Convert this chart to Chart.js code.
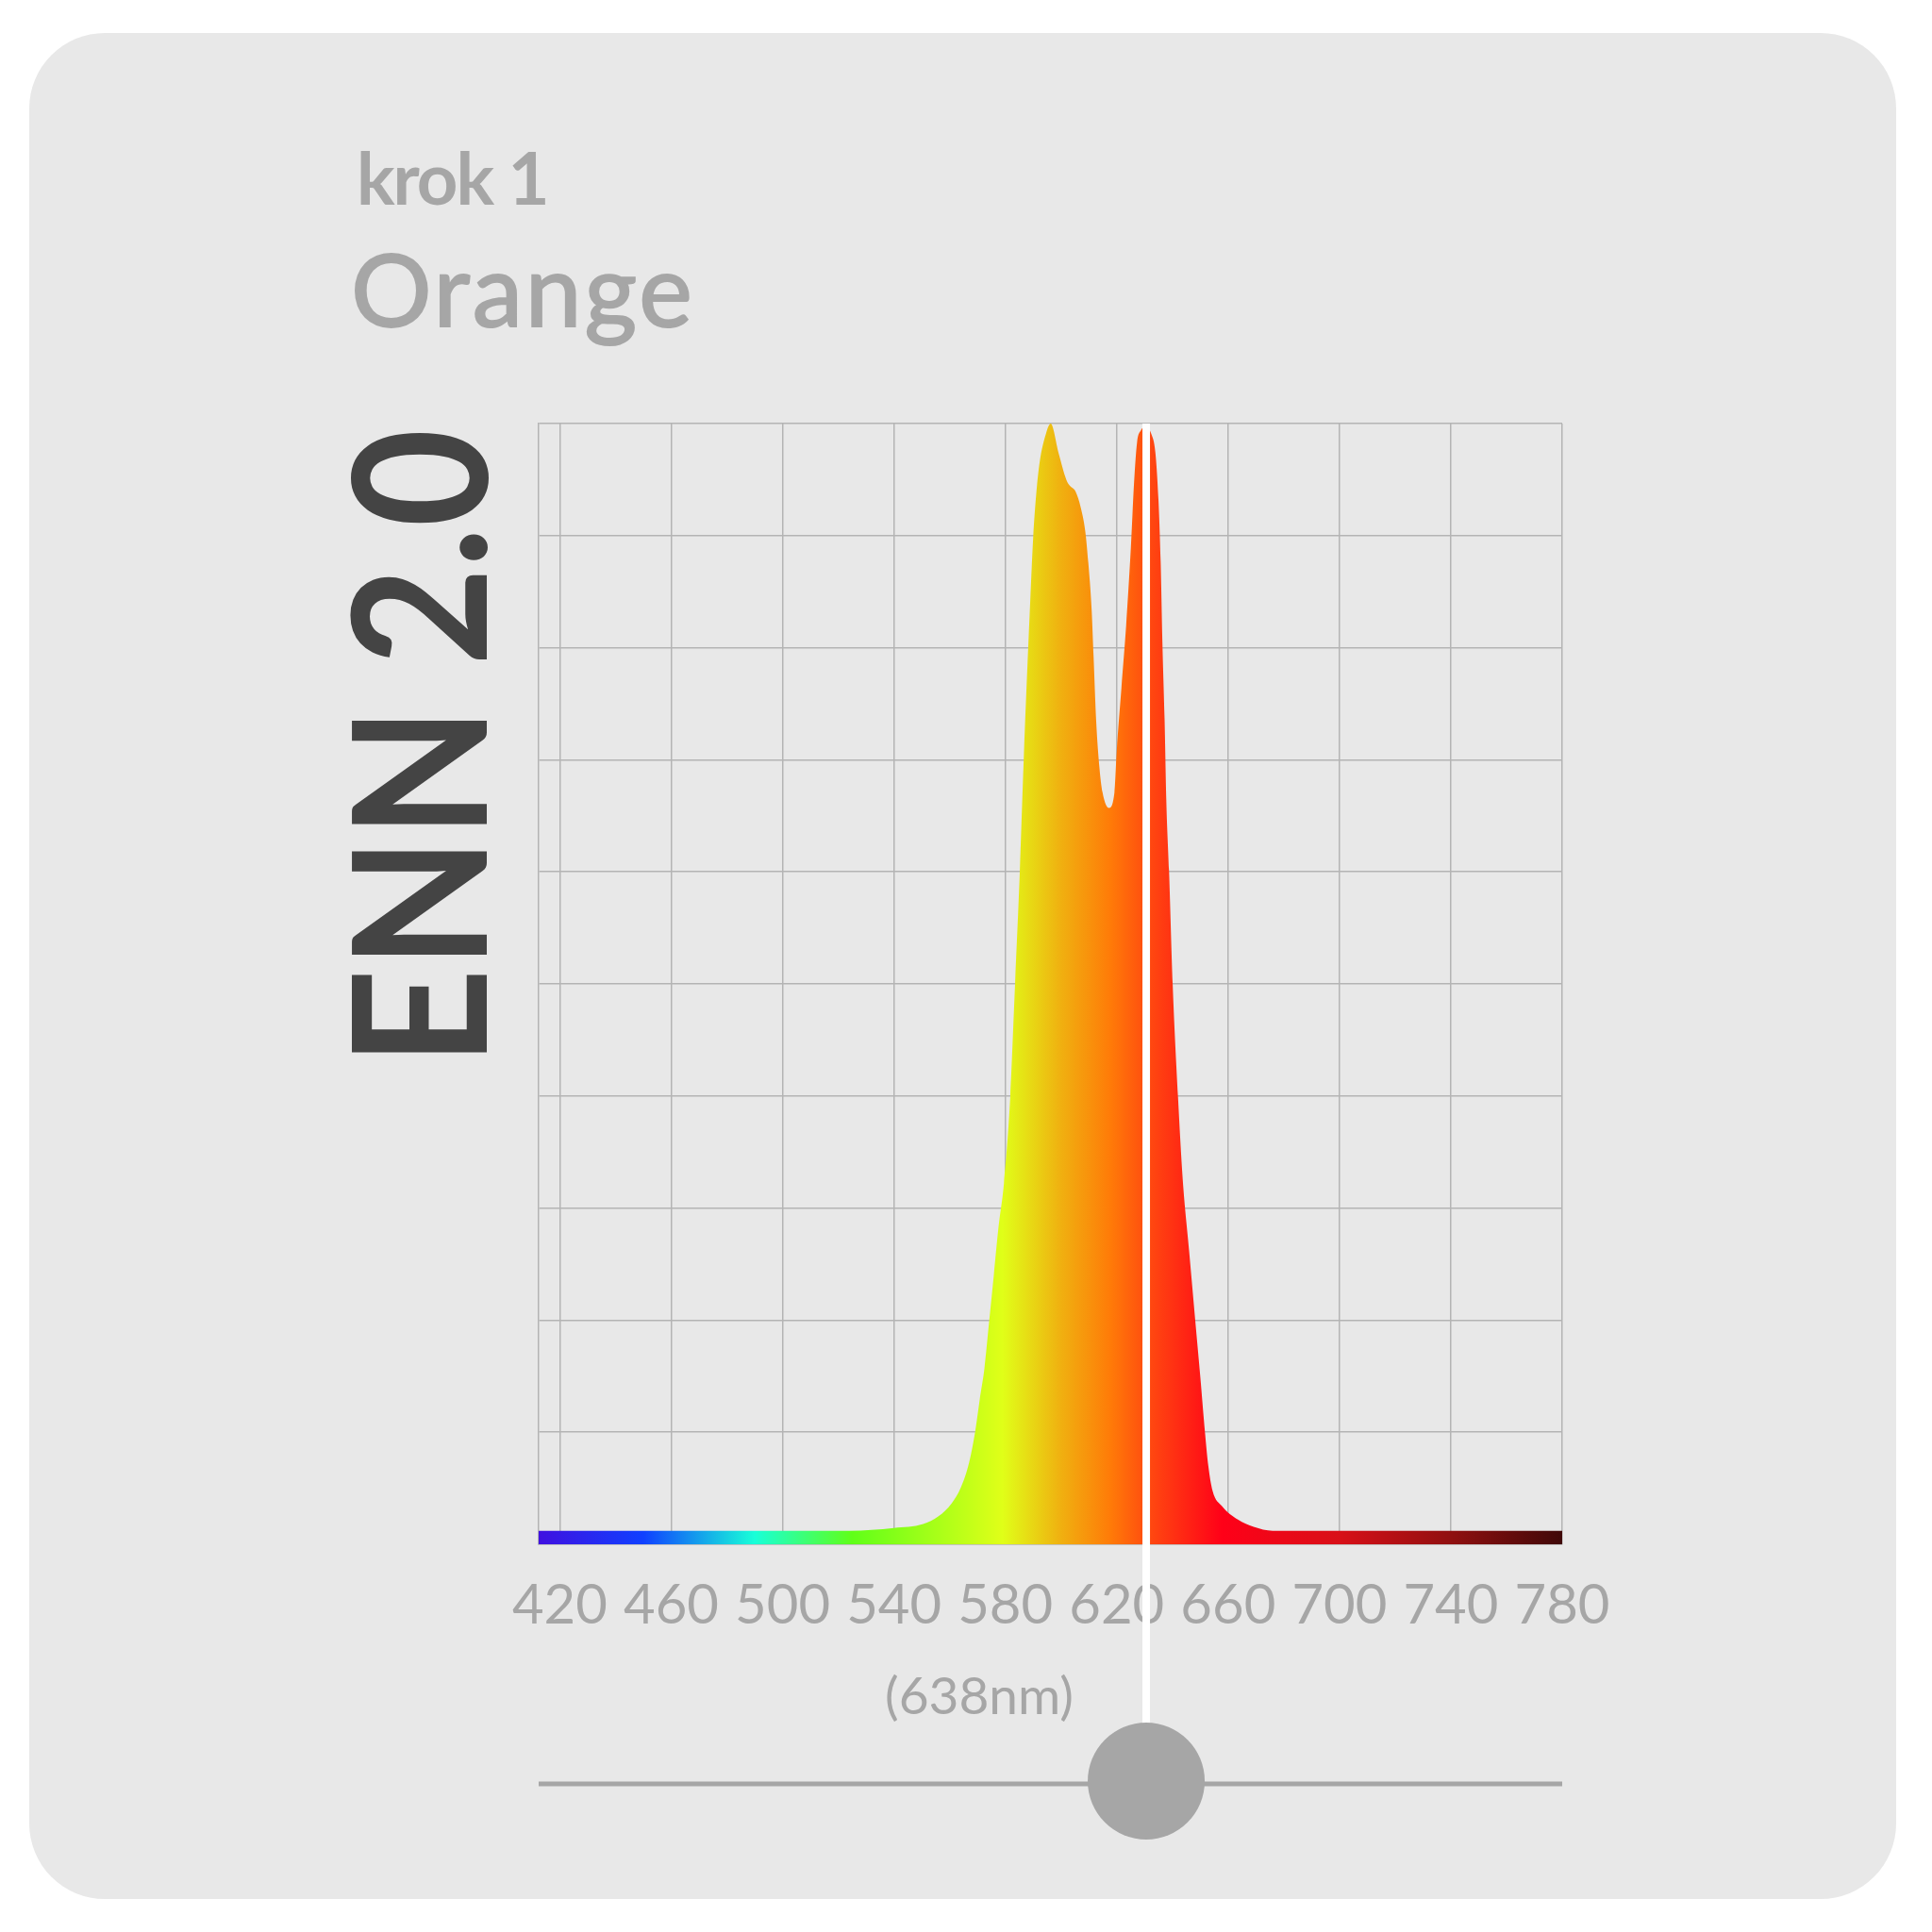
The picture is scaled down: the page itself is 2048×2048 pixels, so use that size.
<!DOCTYPE html>
<html>
<head>
<meta charset="utf-8">
<title>ENN 2.0 - krok 1 Orange</title>
<script src="https://cdn.jsdelivr.net/npm/chart.js@4.4.1/dist/chart.umd.min.js"></script>
<style>
  html, body { margin: 0; padding: 0; background: #ffffff; }
  #page { position: relative; width: 2048px; height: 2048px; overflow: hidden; }
  #card { position: absolute; left: 31px; top: 35px; width: 1979px; height: 1978px; border-radius: 80px; background: #e8e8e8; }
  .txt { position: absolute; white-space: nowrap; font-family: Lato, sans-serif; line-height: 1.2; }
  #step { left: 378px; top: 142px; font-size: 76px; font-weight: 700; letter-spacing: -2px; color: #a6a6a6; }
  #name { left: 372px; top: 241px; font-size: 107px; font-weight: 400; letter-spacing: 3px; color: #a6a6a6; -webkit-text-stroke: 2px #a6a6a6; }
  #brand { left: 322px; top: 1130px; font-size: 197px; font-weight: 700; color: #444444; transform-origin: 0 0; transform: rotate(-90deg) scaleX(0.913); }
  #nm { left: 888px; top: 1763px; width: 300px; text-align: center; font-size: 55px; color: #a6a6a6; }
  #chart { position: absolute; left: 0; top: 0; }
</style>
</head>
<body>
<div id="page">
  <div id="card"></div>
  <div class="txt" id="step">krok 1</div>
  <div class="txt" id="name">Orange</div>
  <div class="txt" id="brand">ENN 2.0</div>
  <div class="txt" id="nm">(638nm)</div>
  <canvas id="chart" width="2048" height="2048"></canvas>
</div>
<script>
// ---------- data ----------
const wavelengths = [
  412.4, 450, 500, 524, 540, 550.5, 556, 560.7, 564, 567, 569.2, 570.8, 572.5, 574.2, 575.9, 577.6,
  579.5, 581.8, 583.5, 585.2, 586.6, 588.9, 590, 591.2, 592.3, 594.6, 596.3, 599.1, 601.9,
  603, 605.3, 607, 608.7, 609.8, 611, 611.7, 612.6, 613.8, 614.9, 617.2, 619.2, 620, 621.7, 623.4,
  625.1, 626.2, 627.3, 628.7, 630.5, 632.4, 633.9, 635, 635.8, 636.4, 637.2, 637.8, 638.8, 640.1,
  642, 643.7, 646, 648.2, 650, 651.7, 652.9, 654.4, 657.8, 663.5, 669.2, 676, 700, 740, 780
];
const intensity = [
  0.012, 0.012, 0.012, 0.012, 0.0146, 0.018, 0.025, 0.0365, 0.0505, 0.073, 0.101, 0.129, 0.157, 0.199, 0.241, 0.284,
  0.322, 0.4, 0.5, 0.6, 0.7, 0.839, 0.898, 0.94, 0.965, 0.991, 1.0, 0.974, 0.95,
  0.945, 0.939, 0.926, 0.904, 0.876, 0.834, 0.792, 0.736, 0.693, 0.671, 0.657, 0.671, 0.707, 0.764, 0.82,
  0.89, 0.946, 0.983, 0.994, 0.997, 0.991, 0.974, 0.932, 0.876, 0.806, 0.736, 0.665, 0.601, 0.5,
  0.4, 0.326, 0.262, 0.2, 0.15, 0.1, 0.07, 0.048, 0.034, 0.022, 0.0155, 0.012, 0.012, 0.012, 0.012
];
const xTicks = [420, 460, 500, 540, 580, 620, 660, 700, 740, 780];
const yTicks = [0, 0.1, 0.2, 0.3, 0.4, 0.5, 0.6, 0.7, 0.8, 0.9, 1];
const markerNm = 630.6;

// colours of the spectrum fill, by wavelength
const spectrumColors = [
  [412, '#4010e0'], [450, '#1040ff'], [490, '#18ffd8'], [525, '#60ff18'],
  [579, '#e0ff18'], [600, '#f0b010'], [618, '#ff7a08'], [632, '#ff4810'],
  [658, '#ff0018'], [700, '#d81018'], [740, '#901010'], [780, '#400808']
];

const GRID = '#b4b4b4';
const SLIDER_Y = 1888;

const sliderPlugin = {
  id: 'slider',
  afterDraw(chart) {
    const ctx = chart.ctx;
    const area = chart.chartArea;
    const x = chart.scales.x.getPixelForValue(markerNm);
    ctx.save();
    // white marker line
    ctx.fillStyle = '#ffffff';
    ctx.fillRect(x - 4, area.top, 8, SLIDER_Y - area.top);
    // slider track
    ctx.strokeStyle = '#a6a6a6';
    ctx.lineWidth = 5;
    ctx.beginPath();
    ctx.moveTo(area.left, SLIDER_Y + 3);
    ctx.lineTo(area.right, SLIDER_Y + 3);
    ctx.stroke();
    // knob
    ctx.fillStyle = '#a6a6a6';
    ctx.beginPath();
    ctx.arc(x, SLIDER_Y, 62, 0, Math.PI * 2);
    ctx.fill();
    ctx.restore();
  }
};

function spectrumFill(c) {
  const chart = c.chart;
  const area = chart.chartArea;
  if (!area) return null;
  const xs = chart.scales.x;
  const g = chart.ctx.createLinearGradient(area.left, 0, area.right, 0);
  spectrumColors.forEach(function (s) {
    let t = (xs.getPixelForValue(s[0]) - area.left) / (area.right - area.left);
    g.addColorStop(Math.min(1, Math.max(0, t)), s[1]);
  });
  return g;
}

function draw() {
  new Chart(document.getElementById('chart'), {
    type: 'line',
    data: {
      datasets: [{
        data: wavelengths.map((w, i) => ({ x: w, y: intensity[i] })),
        fill: 'origin',
        backgroundColor: spectrumFill,
        borderWidth: 0,
        pointRadius: 0,
        cubicInterpolationMode: 'monotone'
      }]
    },
    options: {
      responsive: false,
      animation: false,
      events: [],
      layout: { padding: { top: 449, right: 392, left: 0, bottom: 0 } },
      plugins: { legend: { display: false }, tooltip: { enabled: false } },
      scales: {
        x: {
          type: 'linear',
          min: 412.4,
          max: 780,
          afterBuildTicks: s => { s.ticks = xTicks.map(v => ({ value: v })); },
          afterFit: s => { s.height = 2048 - 1637; },
          grid: { color: GRID, lineWidth: 1.5, drawTicks: false },
          border: { display: true, color: GRID, width: 1.5 },
          ticks: {
            color: '#a6a6a6',
            font: { family: 'Lato', size: 58 },
            padding: 30,
            maxRotation: 0,
            autoSkip: false
          }
        },
        y: {
          min: 0,
          max: 1,
          afterBuildTicks: s => { s.ticks = yTicks.map(v => ({ value: v })); },
          afterFit: s => { s.width = 571; },
          grid: { color: GRID, lineWidth: 1.5, drawTicks: false },
          border: { display: true, color: GRID, width: 1.5 },
          ticks: { display: false }
        }
      }
    },
    plugins: [sliderPlugin]
  });
}

document.fonts.load('58px Lato').then(draw, draw);
</script>
</body>
</html>
